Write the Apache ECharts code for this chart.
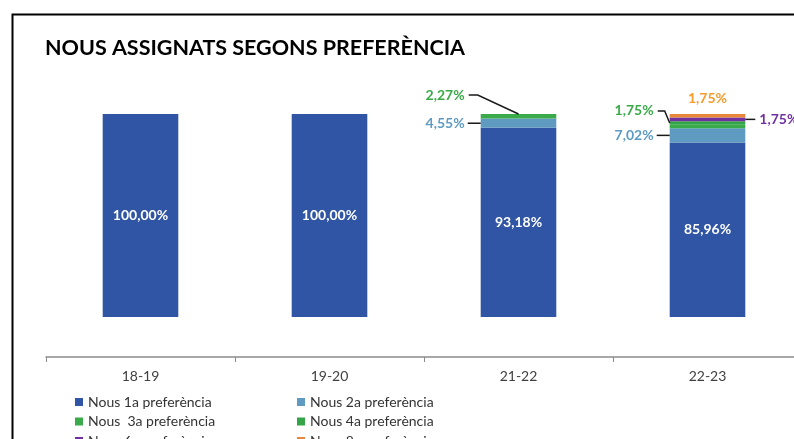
<!DOCTYPE html>
<html>
<head>
<meta charset="utf-8">
<script src="https://cdn.jsdelivr.net/npm/echarts@6/dist/echarts.min.js"></script>
<style>
html,body{margin:0;padding:0;background:#fff;overflow:hidden;}
#chart{width:820px;height:480px;}
</style>
</head>
<body>
<div id="chart"></div>
<script>
const categories = ['18-19', '19-20', '21-22', '22-23'];
const seriesNames = ['Nous 1a preferència', 'Nous 2a preferència', 'Nous  3a preferència', 'Nous 4a preferència', 'Nous 6a preferència', 'Nous 8a preferència'];
const pref1 = [100, 100, 93.18, 85.96];
const pref2 = [0, 0, 4.55, 7.02];
const pref3 = [0, 0, 2.27, 1.75];
const pref4 = [0, 0, 0, 1.75];
const pref6 = [0, 0, 0, 1.75];
const pref8 = [0, 0, 0, 1.75];
// which segments carry an outside label: [seriesIndex, categoryIndex]
const labelledSegments = [[1, 2], [2, 2], [1, 3], [3, 3], [4, 3], [5, 3]];

const FONT = 'Lato';
const colors = ['#2F55A4', '#5F9BC0', '#3BAA4A', '#33A547', '#7030A0', '#E8863A'];
const labelColors = ['#FFFFFF', '#5E9BC4', '#3AAA48', '#3AAA48', '#7030A0', '#F79B2D'];
const values = [pref1, pref2, pref3, pref4, pref6, pref8];
const BAR_RATIO = 0.4;

function fmt(v) { return v.toFixed(2).replace('.', ',') + '%'; }

// label styling / placement (not data)
const placement = {
  '1-2': 'left', '2-2': 'elbowTop', '1-3': 'left', '3-3': 'elbowSide', '4-3': 'right', '5-3': 'top'
};

const series = values.map(function (vals, si) {
  return {
    name: seriesNames[si],
    type: 'bar',
    stack: 'total',
    barWidth: (BAR_RATIO * 100) + '%',
    itemStyle: { color: colors[si] },
    label: {
      show: si === 0, position: 'inside', color: '#fff', fontFamily: FONT, fontWeight: 'bold', fontSize: 14,
      formatter: function (p) { return p.value > 0 ? fmt(p.value) : ''; }
    },
    data: vals
  };
});

// annotation data built from the arrays: [categoryIndex, seriesIndex, base, value]
const annoData = labelledSegments.map(function (sc) {
  const si = sc[0], ci = sc[1];
  let base = 0;
  for (let k = 0; k < si; k++) base += values[k][ci];
  return [ci, si, base, values[si][ci]];
});

series.push({
  type: 'custom',
  name: 'labels',
  silent: true,
  z: 10,
  data: annoData,
  encode: { x: 0, y: 2 },
  renderItem: function (params, api) {
    const ci = api.value(0), si = api.value(1), base = api.value(2), v = api.value(3);
    const pb = api.coord([ci, base]);
    const pt = api.coord([ci, base + v]);
    const bw = api.size([1, 0])[0] * BAR_RATIO;
    const cx = pt[0], left = cx - bw / 2, right = cx + bw / 2;
    const yTop = pt[1], yMid = (pt[1] + pb[1]) / 2;
    const mode = placement[si + '-' + ci];
    const font = 'bold 14px ' + FONT;
    const txt = fmt(v);
    const lineStyle = { stroke: '#1a1a1a', lineWidth: 1.5, fill: null };
    const children = [];
    let tx, ty, align = 'right', pts = null;
    if (mode === 'left') {
      tx = left - 16; ty = yMid;
      pts = [[left - 13, yMid], [left, yMid]];
    } else if (mode === 'elbowTop') {
      tx = left - 16; ty = yTop - 19;
      pts = [[left - 12, ty], [left - 3, ty], [cx, yTop]];
    } else if (mode === 'elbowSide') {
      tx = left - 16; ty = yMid - 12;
      pts = [[left - 12, ty], [left - 5, ty], [left, yMid]];
    } else if (mode === 'right') {
      tx = right + 14; ty = yMid; align = 'left';
      pts = [[right, yMid], [right + 10, yMid]];
    } else {
      tx = cx; ty = yTop - 16; align = 'center';
    }
    if (pts) children.push({ type: 'polyline', shape: { points: pts }, style: lineStyle });
    children.push({
      type: 'text',
      style: { text: txt, x: tx, y: ty, fill: labelColors[si], font: font, align: align, verticalAlign: 'middle' }
    });
    return { type: 'group', children: children };
  }
});

const chart = echarts.init(document.getElementById('chart'), null, { renderer: 'canvas' });
chart.setOption({
  animation: false,
  backgroundColor: '#fff',
  title: {
    text: 'NOUS ASSIGNATS SEGONS PREFERÈNCIA',
    left: 45, top: 37, padding: 0,
    textStyle: { fontFamily: FONT, fontWeight: 'bold', fontSize: 21.5, color: '#000' }
  },
  graphic: [{
    type: 'rect', left: 10, top: 12, silent: true,
    shape: { width: 900, height: 600 },
    style: { fill: 'none', stroke: '#000', lineWidth: 2 }
  }],
  legend: [{
    orient: 'vertical', left: 75, top: 394, padding: 0, itemGap: 3.5,
    icon: 'rect', itemWidth: 8, itemHeight: 8, itemTextGap: 4,
    textStyle: { fontFamily: FONT, fontSize: 14, color: '#333', lineHeight: 16 },
    data: [seriesNames[0], seriesNames[2], seriesNames[4]]
  }, {
    orient: 'vertical', left: 297, top: 394, padding: 0, itemGap: 3.5,
    icon: 'rect', itemWidth: 8, itemHeight: 8, itemTextGap: 4,
    textStyle: { fontFamily: FONT, fontSize: 14, color: '#333', lineHeight: 16 },
    data: [seriesNames[1], seriesNames[3], seriesNames[5]]
  }],
  grid: { left: 46, width: 756, top: 114, height: 203, containLabel: false },
  xAxis: {
    type: 'category', data: categories, offset: 40, boundaryGap: true,
    axisLine: { onZero: false, lineStyle: { color: '#8A8A8A', width: 1.5 } },
    axisTick: { show: true, length: 5, lineStyle: { color: '#8A8A8A' } },
    axisLabel: { fontFamily: FONT, fontSize: 14, color: '#404040', margin: 12 }
  },
  yAxis: { type: 'value', min: 0, max: 100, show: false, splitLine: { show: false } },
  series: series
});
</script>
</body>
</html>
